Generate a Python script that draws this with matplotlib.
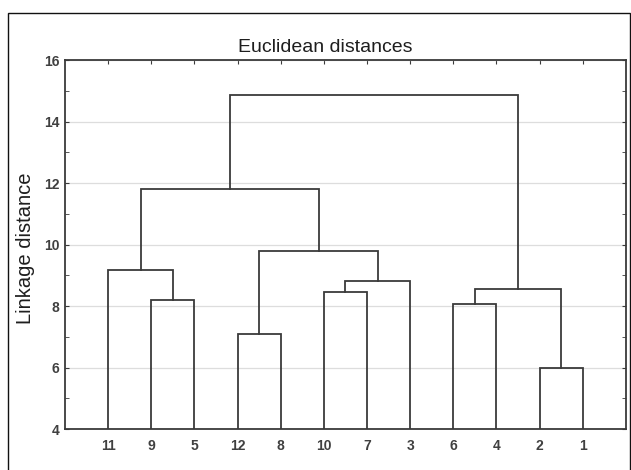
import matplotlib
matplotlib.use("Agg")
import matplotlib.pyplot as plt
from matplotlib.patches import Rectangle
from matplotlib.ticker import MultipleLocator

# leaves in display order (left to right)
leaf_labels = ['11', '9', '5', '12', '8', '10', '7', '3', '6', '4', '2', '1']

# merges: leaf ids 0..11, new clusters numbered from 12 upwards
merge_left = [10, 3, 8, 1, 5, 14, 16, 0, 13, 19, 21]
merge_right = [11, 4, 9, 2, 6, 12, 7, 15, 18, 20, 17]
merge_height = [6.0, 7.1, 8.07, 8.18, 8.45, 8.56, 8.82, 9.18, 9.8, 11.8, 14.86]

line_col = '#3a3a3a'
text_col = '#1e1e1e'
sans = ['Liberation Sans', 'DejaVu Sans']

fig = plt.figure(figsize=(6.31, 4.70), dpi=100)
ax = fig.add_axes([0.103, 0.0872, 0.889, 0.785])

# x/y of every node: leaves sit at the bottom of the axis
n = len(leaf_labels)
node_x = [i + 1 for i in range(n)]
node_y = [4.0] * n
for a, b, h in zip(merge_left, merge_right, merge_height):
    xa, ya = node_x[a], node_y[a]
    xb, yb = node_x[b], node_y[b]
    ax.plot([xa, xa, xb, xb], [ya, h, h, yb], color=line_col, lw=1.3,
            solid_joinstyle='miter', zorder=3)
    node_x.append((xa + xb) / 2)
    node_y.append(h)

ax.set_xlim(0, n + 1)
ax.set_ylim(4, 16)
ax.set_xticks(range(1, n + 1))
ax.set_xticklabels(leaf_labels)
ax.yaxis.set_major_locator(MultipleLocator(2))
ax.yaxis.set_minor_locator(MultipleLocator(1))
ax.grid(axis='y', color='#dddddd', lw=0.9, zorder=0)

for lab in ax.get_xticklabels() + ax.get_yticklabels():
    lab.set_family(sans)
    lab.set_size(10)
    lab.set_weight('bold')
    lab.set_color('#404040')

ax.tick_params(axis='x', which='both', direction='in', bottom=False, top=True,
               length=3, color=line_col, pad=7)
ax.tick_params(axis='y', which='both', direction='in', left=True, right=True,
               length=3, color=line_col, pad=4)
for sp in ax.spines.values():
    sp.set_color(line_col)
    sp.set_linewidth(1.3)

fig.text(325 / 631, 1 - 52 / 470, 'Euclidean distances', ha='center',
         va='baseline', fontsize=14, color=text_col, family=sans)
fig.text(26 / 631, 1 - 248 / 470, 'Linkage distance', ha='center',
         va='center', rotation=90, fontsize=14.5, color=text_col, family=sans)

# outer frame around the whole panel
fig.patches.append(Rectangle((8 / 631, -0.02), 621.5 / 631, 1.02 - 13 / 470,
                             transform=fig.transFigure, fill=False,
                             edgecolor='#111111', lw=1.0))

fig.savefig('out.png', dpi=100)
